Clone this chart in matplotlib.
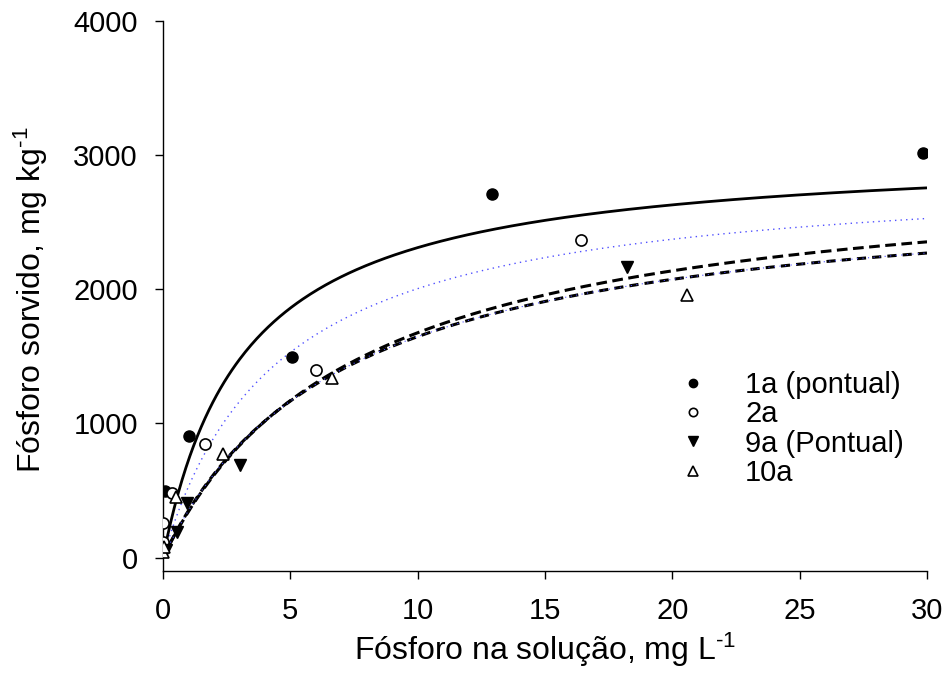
import numpy as np
import matplotlib
matplotlib.use('Agg')
import matplotlib.pyplot as plt

plt.rcParams['font.family'] = ['Liberation Sans', 'DejaVu Sans']
plt.rcParams['mathtext.fontset'] = 'custom'
plt.rcParams['mathtext.rm'] = 'Liberation Sans'
plt.rcParams['mathtext.default'] = 'regular'

# pontos observados
x_1a = [0.02, 0.08, 1.02, 5.07, 12.93, 29.86]
y_1a = [100, 499, 909, 1498, 2712, 3018]
x_2a = [0.0, 0.01, 0.35, 1.65, 6.01, 16.42]
y_2a = [119, 261, 484, 849, 1401, 2370]
x_9a = [0.1, 0.55, 0.94, 3.03, 18.23]
y_9a = [60, 194, 410, 693, 2168]
x_10a = [0.02, 0.03, 0.51, 2.36, 6.64, 20.59]
y_10a = [45, 82, 455, 775, 1341, 1960]

# parametros Langmuir (Q max, constante a = 1/K)
q_1a, a_1a = 3050, 3.2
q_2a, a_2a = 2907, 4.5
q_9a, a_9a = 2950, 7.6
q_10a, a_10a = 2800, 7.0

xticks = [0, 5, 10, 15, 20, 25, 30]
yticks = [0, 1000, 2000, 3000, 4000]


def langmuir(x, q, a):
    return q * x / (a + x)


fig = plt.figure(figsize=(9.47, 6.91), dpi=100)
ax = fig.add_axes([0.1721, 0.1737, 0.8068, 0.7959])

xs = np.linspace(0, 30, 400)
ax.plot(xs, langmuir(xs, q_1a, a_1a), color='black', lw=2.0, solid_capstyle='butt')
ax.plot(xs, langmuir(xs, q_2a, a_2a), color='#5050ff', lw=1.0, ls=(0, (1, 3)))
ax.plot(xs, langmuir(xs, q_9a, a_9a), color='black', lw=2.2, dashes=(3.5, 1.8))
ax.plot(xs, langmuir(xs, q_10a, a_10a), color='black', lw=2.2, dashes=(3.0, 2.0))
ax.plot(xs, langmuir(xs, q_10a, a_10a), color='#5050ff', lw=0.8, ls=(0, (1, 4)))

ms = 8
ax.plot(x_1a, y_1a, 'o', color='black', ms=ms, ls='none', label='1a (pontual)', zorder=5)
ax.plot(x_2a, y_2a, 'o', mfc='white', mec='black', mew=1.2, ms=ms, ls='none', label='2a', zorder=5)
ax.plot(x_9a, y_9a, 'v', color='black', ms=ms + 1, ls='none', label='9a (Pontual)', zorder=5)
ax.plot(x_10a, y_10a, '^', mfc='white', mec='black', mew=1.2, ms=ms + 1, ls='none', label='10a', zorder=5)

ax.set_xlim(0, 30)
ax.set_ylim(-100, 4000)
ax.set_xticks(xticks)
ax.set_yticks(yticks)
ax.spines['top'].set_visible(False)
ax.spines['right'].set_visible(False)
ax.spines['left'].set_linewidth(1.0)
ax.spines['bottom'].set_linewidth(1.0)
ax.tick_params(direction='out', length=6, width=1.0, labelsize=21)
ax.tick_params(axis='x', pad=13)
ax.tick_params(axis='y', pad=12)

ax.set_xlabel(r'Fósforo na solução, mg L$^{\text{-}1}$', fontsize=23)
ax.set_ylabel(r'Fósforo sorvido, mg kg$^{\text{-}1}$', fontsize=23)
ax.xaxis.set_label_coords(0.5, -0.108)
ax.yaxis.set_label_coords(-0.148, 0.493)

ax.legend(loc='upper left', bbox_to_anchor=(0.674, 0.364), frameon=False,
          fontsize=21, markerscale=0.75, handlelength=1.0, handletextpad=1.3,
          labelspacing=0.05, borderpad=0, borderaxespad=0)

fig.savefig('out.png', dpi=100)
